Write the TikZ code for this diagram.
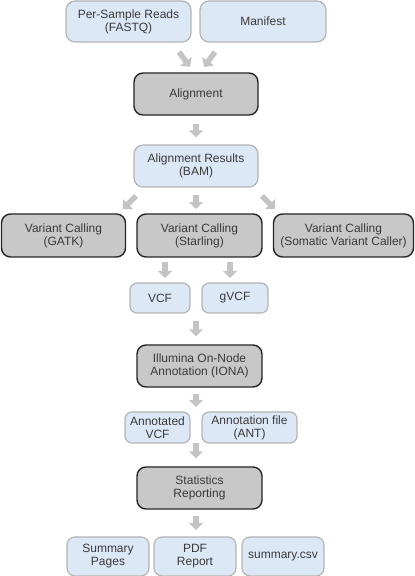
\documentclass[tikz,border=0pt]{standalone}
\usepackage{fontspec}
\setmainfont{Liberation Sans}
\usetikzlibrary{arrows.meta,calc}
\definecolor{lblue}{HTML}{DCE8F6}
\definecolor{lbord}{HTML}{B4B4B4}
\definecolor{dgray}{HTML}{C8C8C8}
\definecolor{txt}{HTML}{3A3A3A}
\definecolor{arr}{HTML}{C4C4C4}
\tikzset{
  base/.style={rounded corners=9pt, align=center, font=\fontsize{12}{13}\selectfont, text=txt, inner sep=1pt},
  data/.style={base, fill=lblue, draw=lbord, line width=1.2pt},
  proc/.style={base, fill=dgray, draw=black!85, line width=1.4pt},
  blk/.style={draw=arr, line width=5.5pt, -{Triangle[width=14pt,length=7pt]}},
}
\begin{document}
\begin{tikzpicture}[x=1pt,y=1pt]
\useasboundingbox (0,0) rectangle (415,576);
% y = 576 - pixel y
\node[data, minimum width=125pt, minimum height=41pt] (reads) at (128.5,554.5) {Per-Sample Reads\\(FASTQ)};
\node[data, minimum width=126pt, minimum height=41pt] (manifest) at (263,554.5) {Manifest};
\node[proc, minimum width=124pt, minimum height=42pt] (align) at (196,482) {Alignment};
\node[data, minimum width=124pt, minimum height=42pt] (bam) at (196,410) {Alignment Results\\(BAM)};
\node[proc, minimum width=124pt, minimum height=43pt] (gatk) at (63.5,340.5) {Variant Calling\\(GATK)};
\node[proc, minimum width=125pt, minimum height=43pt] (starling) at (199.5,340.5) {Variant Calling\\(Starling)};
\node[proc, minimum width=140pt, minimum height=43pt] (somatic) at (343.5,340.5) {Variant Calling\\(Somatic Variant Caller)};
\node[data, rounded corners=7pt, minimum width=60pt, minimum height=30pt] (vcf) at (160,278) {VCF};
\node[data, rounded corners=7pt, minimum width=66pt, minimum height=30pt] (gvcf) at (235,278) {gVCF};
\node[proc, minimum width=125pt, minimum height=42pt] (iona) at (199.5,210) {Illumina On-Node\\Annotation (IONA)};
\node[data, rounded corners=7pt, minimum width=65pt, minimum height=31pt] (avcf) at (157.5,148.5) {Annotated\\VCF};
\node[data, rounded corners=7pt, minimum width=95pt, minimum height=31pt] (ant) at (249.5,148.5) {Annotation file\\(ANT)};
\node[proc, minimum width=125pt, minimum height=42pt] (stats) at (199.5,88) {Statistics\\Reporting};
\node[data, rounded corners=8pt, minimum width=82pt, minimum height=39pt] (pages) at (108,19.5) {Summary\\Pages};
\node[data, rounded corners=8pt, minimum width=82pt, minimum height=39pt] (pdf) at (195,19.5) {PDF\\Report};
\node[data, rounded corners=8pt, minimum width=82pt, minimum height=39pt] (csv) at (283,19.5) {summary.csv};
% arrows
\coordinate (r1) at (179,524); \coordinate (r2) at (190,509);
\coordinate (m1) at (215,524); \coordinate (m2) at (204,509);
\draw[blk] (r1) -- (r2);
\draw[blk] (m1) -- (m2);
\draw[blk, shorten <=8pt, shorten >=7pt] (align.south -| 196,0) -- (bam.north);
\coordinate (b1) at (136,380); \coordinate (b2) at (123,367);
\coordinate (b3) at (196,381); \coordinate (b4) at (196,367);
\coordinate (b5) at (262,380); \coordinate (b6) at (275,367);
\draw[blk] (b1) -- (b2);
\draw[blk] (b3) -- (b4);
\draw[blk] (b5) -- (b6);
\coordinate (s1) at (165,314); \coordinate (s2) at (165,298);
\coordinate (s3) at (230,314); \coordinate (s4) at (230,298);
\draw[blk] (s1) -- (s2);
\draw[blk] (s3) -- (s4);
\draw[blk, shorten <=7pt, shorten >=8pt] (vcf.south -| 196,0) -- (iona.north -| 196,0);
\draw[blk, shorten <=6pt, shorten >=5pt] (iona.south -| 196,0) -- (196,164);
\draw[blk, shorten <=0pt, shorten >=8pt] (196,133) -- (stats.north -| 196,0);
\draw[blk, shorten <=6pt, shorten >=7pt] (stats.south -| 196,0) -- (196,39);
\end{tikzpicture}
\end{document}
